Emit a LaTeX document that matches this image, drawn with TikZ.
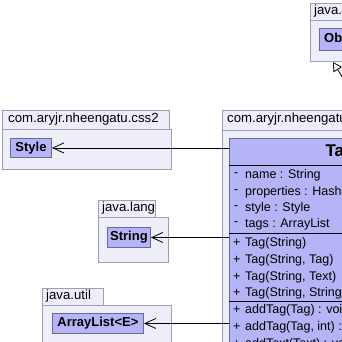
\documentclass[tikz,border=0pt]{standalone}
\usepackage{fontspec}
\setmainfont{Liberation Sans}
\usetikzlibrary{arrows.meta}

\definecolor{pkgfill}{HTML}{EEEEF8}
\definecolor{pkgline}{HTML}{9E9EBA}
\definecolor{clsfill}{HTML}{B4B4F6}
\definecolor{clsline}{HTML}{6A6A98}

\tikzset{
  pkg/.style={draw=pkgline, fill=pkgfill, line width=0.8pt, anchor=north west, inner sep=0pt},
  pkgname/.style={anchor=west, inner sep=0pt, font=\fontsize{13.2}{15}\selectfont},
  cls/.style={draw=clsline, fill=clsfill, line width=0.9pt, anchor=north west, inner sep=0pt,
    font=\bfseries\fontsize{13}{15}\selectfont},
  member/.style={anchor=west, inner sep=0pt, font=\fontsize{12.5}{14}\selectfont},
  uses/.style={-{Straight Barb[length=11pt,width=10pt]}, line width=0.8pt},
  extends/.style={-{Triangle[open,length=9pt,width=10pt]}, line width=0.8pt},
}

\begin{document}
\begin{tikzpicture}[x=1pt, y=-1pt]
\useasboundingbox (0,0) rectangle (342,341);
\fill[white] (0,0) rectangle (342,341);
\begin{scope}
\clip (0,0) rectangle (342,341);

% java.lang (Object)
\node[pkg, minimum width=60pt, minimum height=17pt] (objtab) at (310,3) {};
\node[pkg, minimum width=80pt, minimum height=41pt] (objpkg) at (310,20) {};
\node[pkgname] at (314,11.5) {java.lang};
\node[cls, minimum width=50pt, minimum height=22pt] (object) at (319,28) {Object};
\coordinate (objfoot) at (333,62);

% com.aryjr.nheengatu.css2
\node[pkg, minimum width=167pt, minimum height=19pt] (csstab) at (2,110) {};
\node[pkg, minimum width=169pt, minimum height=40pt] (csspkg) at (2,129) {};
\node[pkgname] at (8,119.5) {com.aryjr.nheengatu.css2};
\node[cls, minimum width=41pt, minimum height=19pt] (style) at (10,138) {Style};

% java.lang (String)
\node[pkg, minimum width=57pt, minimum height=17pt] (langtab) at (98,200) {};
\node[pkg, minimum width=70pt, minimum height=45pt] (langpkg) at (98,217) {};
\node[pkgname] at (102,208.5) {java.lang};
\node[cls, minimum width=43pt, minimum height=20pt] (string) at (107,227) {String};

% java.util
\node[pkg, minimum width=61pt, minimum height=17pt] (utiltab) at (42,288) {};
\node[pkg, minimum width=129pt, minimum height=50pt] (utilpkg) at (42,305) {};
\node[pkgname] at (46,296.5) {java.util};
\node[cls, minimum width=91pt, minimum height=20pt] (arraylist) at (52,313) {ArrayList<E>};

% com.aryjr.nheengatu
\node[pkg, minimum width=180pt, minimum height=20pt] (maintab) at (222,110) {};
\node[pkg, minimum width=236pt, minimum height=260pt] (mainpkg) at (222,130) {};
\node[pkgname] at (227,119.5) {com.aryjr.nheengatu.html};
\node[cls, minimum width=222pt, minimum height=240pt] (tag) at (229,138) {};
\node[font=\bfseries\fontsize{17}{19}\selectfont, inner sep=0pt] (tagname) at (340,152) {Tag};
\coordinate (tagtop) at (380,138);
\draw[line width=0.8pt] (229,165) -- (451,165);
\draw[line width=0.8pt] (229,233) -- (451,233);
\draw[line width=0.8pt] (229,301) -- (451,301);

% attributes
\node[member] at (234,175) {-};  \node[member] at (245,175) {name : String};
\node[member] at (234,192) {-};  \node[member] at (245,192) {properties : HashMap};
\node[member] at (234,208) {-};  \node[member] at (245,208) {style : Style};
\node[member] at (234,224) {-};  \node[member] at (245,224) {tags : ArrayList};
% constructors
\node[member] at (233,243) {+};  \node[member] at (245,243) {Tag(String)};
\node[member] at (233,260) {+};  \node[member] at (245,260) {Tag(String, Tag)};
\node[member] at (233,277) {+};  \node[member] at (245,277) {Tag(String, Text)};
\node[member] at (233,293) {+};  \node[member] at (245,293) {Tag(String, String)};
% methods
\node[member] at (233,310) {+};  \node[member] at (245,310) {addTag(Tag) : void};
\node[member] at (233,327) {+};  \node[member] at (245,327) {addTag(Tag, int) : void};
\node[member] at (233,344) {+};  \node[member] at (245,344) {addText(Text) : void};

% dependencies
\draw[uses] (tag.west |- style.east) -- (style.east);
\draw[uses] (tag.west |- string.east) -- (string.east);
\draw[uses] (tag.west |- arraylist.east) -- (arraylist.east);
\draw[extends] (tagtop) -- (objfoot);
\end{scope}
\end{tikzpicture}
\end{document}
